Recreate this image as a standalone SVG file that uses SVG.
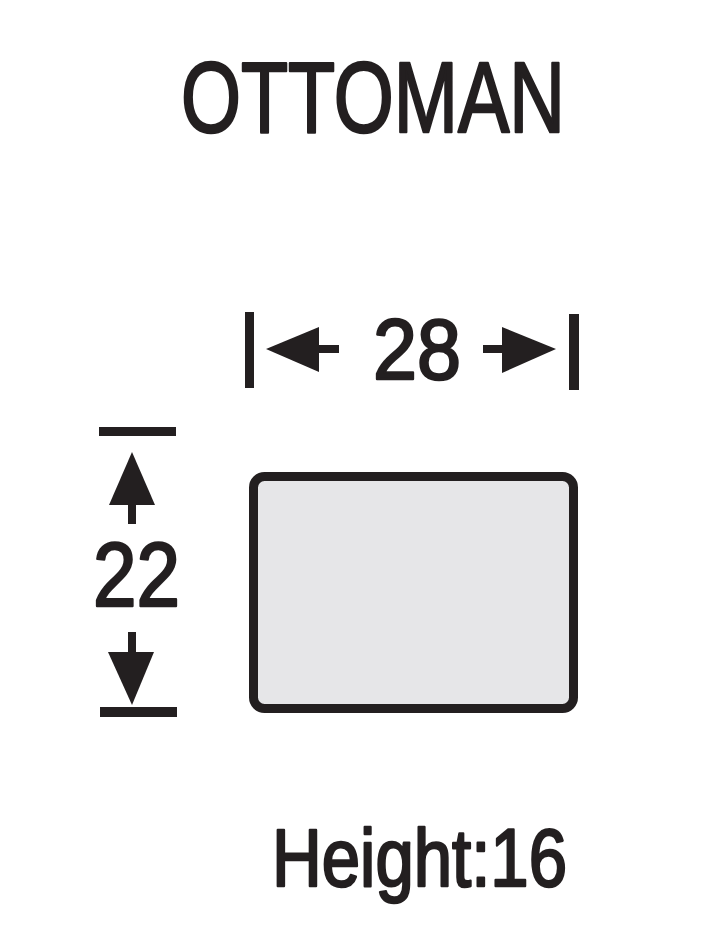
<svg xmlns="http://www.w3.org/2000/svg" width="710" height="928" viewBox="0 0 710 928">
<style>
.t{font-family:"Liberation Sans Narrow","Liberation Sans",Arial,sans-serif;fill:#231f20;stroke:#231f20;stroke-width:2.5;stroke-linejoin:round}
.ink{fill:#231f20}
</style>
<rect width="710" height="928" fill="#ffffff"/>
<g id="title"><text class="t" x="181" y="132" font-size="101" textLength="384" lengthAdjust="spacingAndGlyphs">OTTOMAN</text></g>
<g id="ottoman"><rect x="253.5" y="476.5" width="320" height="232" rx="11" ry="11" fill="#e6e6e8" stroke="#231f20" stroke-width="9"/></g>
<g id="connectors">
<g id="width-dim">
<rect class="ink" x="245" y="312" width="9" height="76"/>
<polygon class="ink" points="266,349 319,327 319,372"/>
<rect class="ink" x="318" y="345" width="21" height="8"/>
<rect class="ink" x="483" y="345" width="20" height="8"/>
<polygon class="ink" points="556,349 502,327 502,373"/>
<rect class="ink" x="569" y="314" width="10" height="76"/>
</g>
<g id="depth-dim">
<rect class="ink" x="99" y="427" width="77" height="9"/>
<polygon class="ink" points="132,452 109,505 155,505"/>
<rect class="ink" x="128" y="504" width="8" height="20"/>
<rect class="ink" x="128" y="632" width="8" height="21"/>
<polygon class="ink" points="132,705 108,652 154,652"/>
<rect class="ink" x="100" y="707" width="77" height="10"/>
</g>
</g>
<g id="label-28"><text class="t" x="373" y="379" font-size="86" textLength="88" lengthAdjust="spacingAndGlyphs">28</text></g>
<g id="label-22"><text class="t" x="93" y="606" font-size="90" textLength="87" lengthAdjust="spacingAndGlyphs">22</text></g>
<g id="height"><text class="t" x="272" y="886" font-size="82" textLength="295" lengthAdjust="spacingAndGlyphs">Height:16</text></g>
</svg>
